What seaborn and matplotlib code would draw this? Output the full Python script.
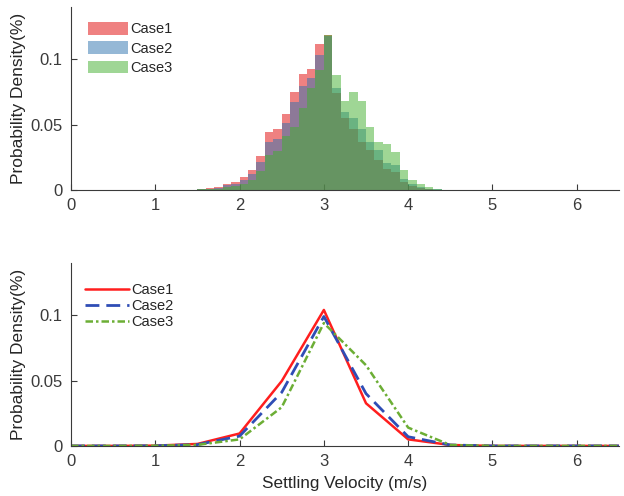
import numpy as np
import pandas as pd
import matplotlib
matplotlib.use("Agg")
import matplotlib.pyplot as plt
import seaborn as sns

# histogram bins (0.1 m/s wide, 1.5 .. 4.4) and bar heights per case
n_bins = 29
bin_range = (1.5, 4.4)
bin_centers = np.linspace(1.55, 4.35, n_bins)

hist_case1 = [0.0010, 0.0015, 0.0022, 0.0047, 0.0060, 0.0099, 0.0155, 0.0260, 0.0440, 0.0470,
              0.0580, 0.0750, 0.0886, 0.0925, 0.1120, 0.1185, 0.0740, 0.0550, 0.0470, 0.0370,
              0.0305, 0.0227, 0.0163, 0.0137, 0.0060, 0.0027, 0.0015, 0.0008, 0.0003]
hist_case2 = [0.0007, 0.0010, 0.0016, 0.0036, 0.0047, 0.0078, 0.0124, 0.0214, 0.0368, 0.0388,
              0.0510, 0.0670, 0.0796, 0.0860, 0.1035, 0.1180, 0.0780, 0.0600, 0.0550, 0.0470,
              0.0370, 0.0305, 0.0206, 0.0188, 0.0086, 0.0042, 0.0020, 0.0010, 0.0004]
hist_case3 = [0.0004, 0.0006, 0.0010, 0.0020, 0.0030, 0.0047, 0.0078, 0.0145, 0.0270, 0.0300,
              0.0410, 0.0480, 0.0625, 0.0780, 0.0920, 0.1185, 0.0877, 0.0680, 0.0750, 0.0680,
              0.0485, 0.0370, 0.0355, 0.0290, 0.0150, 0.0073, 0.0042, 0.0026, 0.0010]

# line plot (coarse 0.5 m/s sampling)
velocity = [0.0, 0.5, 1.0, 1.5, 2.0, 2.5, 3.0, 3.5, 4.0, 4.5, 5.0, 5.5, 6.0, 6.5]
line_case1 = [0, 0, 0.0002, 0.0015, 0.0095, 0.0496, 0.1040, 0.0326, 0.0050, 0.0007, 0, 0, 0, 0]
line_case2 = [0, 0, 0.0001, 0.0010, 0.0075, 0.0410, 0.0990, 0.0400, 0.0070, 0.0007, 0, 0, 0, 0]
line_case3 = [0, 0, 0.0001, 0.0008, 0.0050, 0.0296, 0.0940, 0.0617, 0.0140, 0.0007, 0, 0, 0, 0]

labels = ["Case1", "Case2", "Case3"]
hist_colors = ["#E10505", "#2D73AF", "#41AF2D"]
line_colors = ["#FF1E1E", "#2F4DB5", "#6CAE35"]

sns.set_style("ticks")
plt.rcParams["font.family"] = ["Liberation Sans", "DejaVu Sans"]
plt.rcParams["axes.edgecolor"] = "#3a3a3a"
plt.rcParams["xtick.color"] = "#3a3a3a"
plt.rcParams["ytick.color"] = "#3a3a3a"
plt.rcParams["text.color"] = "#262626"
plt.rcParams["axes.labelcolor"] = "#262626"

fig = plt.figure(figsize=(6.24, 4.96), dpi=100)
ax1 = fig.add_axes([0.1138, 0.617, 0.878, 0.369])
ax2 = fig.add_axes([0.1138, 0.101, 0.878, 0.369])

# top: overlapping histograms
for vals, col, lab in zip([hist_case1, hist_case2, hist_case3], hist_colors, labels):
    df = pd.DataFrame({"v": bin_centers, "w": vals})
    sns.histplot(data=df, x="v", weights="w", bins=n_bins, binrange=bin_range,
                 element="step", fill=True, stat="count", color=col, alpha=0.5,
                 linewidth=0, label=lab, ax=ax1)

# bottom: lines
styles = [dict(linestyle="-", linewidth=1.8),
          dict(linestyle=(0, (5, 2.5)), linewidth=2.0),
          dict(linestyle=(0, (3, 1.2, 1, 1.2)), linewidth=1.8)]
for vals, col, lab, st in zip([line_case1, line_case2, line_case3], line_colors, labels, styles):
    sns.lineplot(x=velocity, y=vals, color=col, label=lab, ax=ax2, **st)

for ax in (ax1, ax2):
    ax.set_xlim(0, 6.5)
    ax.set_ylim(0, 0.14)
    ax.set_xticks([0, 1, 2, 3, 4, 5, 6])
    ax.set_yticks([0, 0.05, 0.1])
    ax.set_yticklabels(["0", "0.05", "0.1"])
    ax.tick_params(direction="in", length=4, width=0.8, labelsize=12, pad=6)
    ax.set_ylabel("Probability Density(%)", fontsize=12.5, labelpad=3)
    ax.spines["top"].set_visible(False)
    ax.spines["right"].set_visible(False)
    ax.spines["left"].set_linewidth(0.8)
    ax.spines["bottom"].set_linewidth(0.8)

ax1.set_xlabel("")
ax2.set_xlabel("Settling Velocity (m/s)", fontsize=12.3, labelpad=5)

ax1.legend(loc="upper left", bbox_to_anchor=(0.02, 0.95), frameon=False, fontsize=10.5,
           handlelength=2.75, handleheight=0.95, labelspacing=0.35, handletextpad=0.15,
           borderaxespad=0.0)
ax2.legend(loc="upper left", bbox_to_anchor=(0.015, 0.92), frameon=False, fontsize=10.5,
           handlelength=3.0, labelspacing=0.12, handletextpad=0.15, borderaxespad=0.0)

fig.savefig("out.png", dpi=100)
